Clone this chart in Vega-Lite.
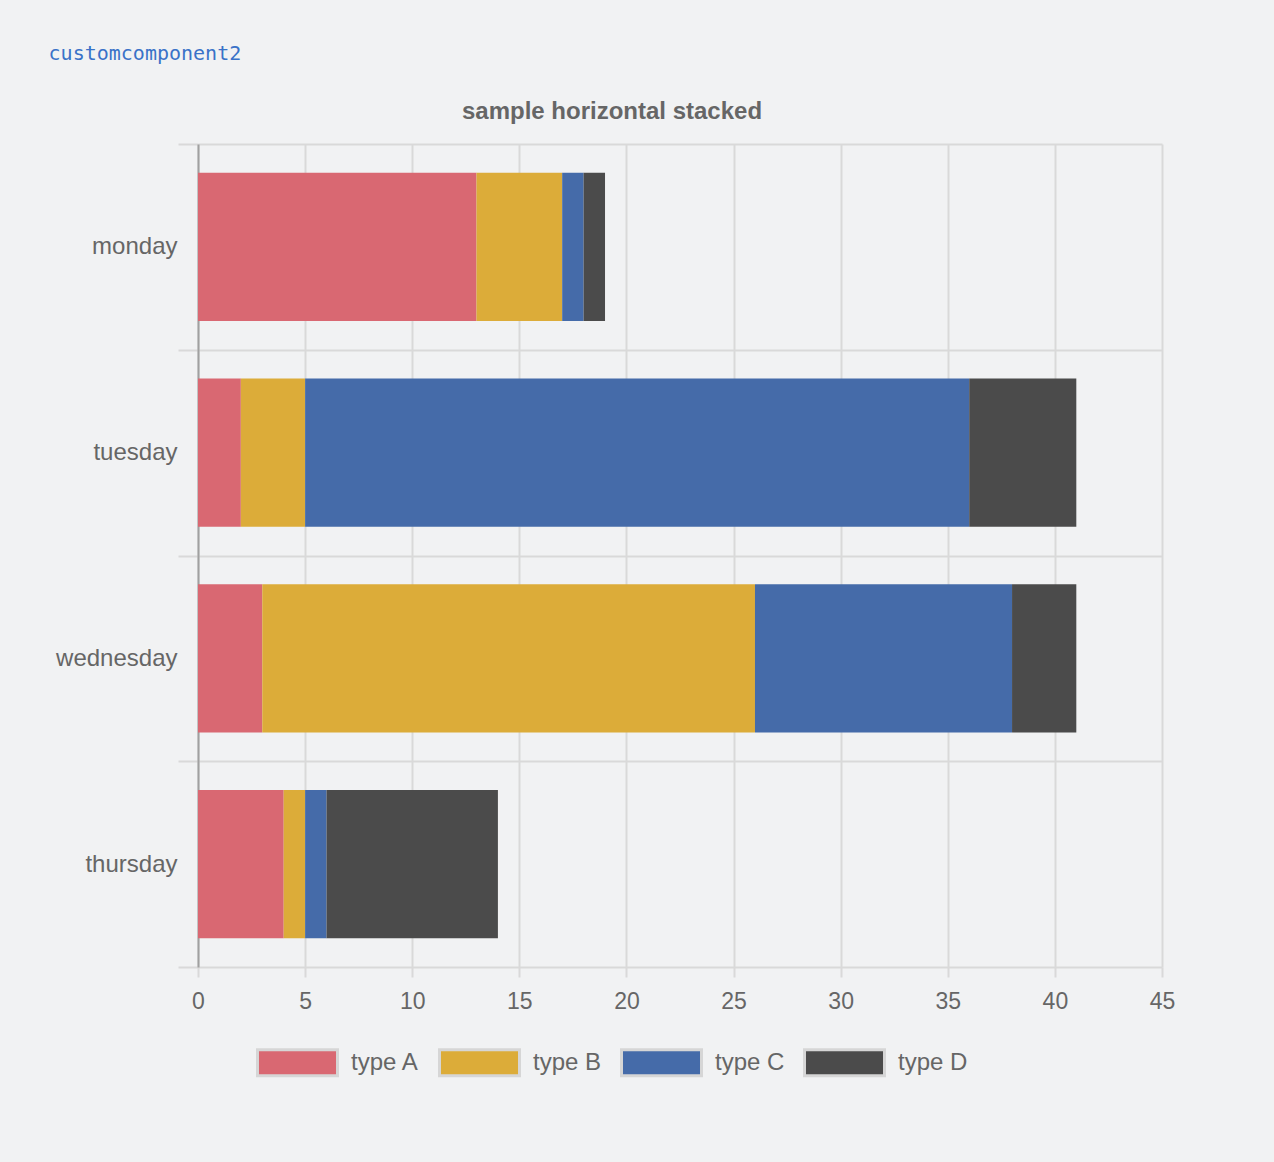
{
  "$schema": "https://vega.github.io/schema/vega-lite/v6.json",
  "background": "#f1f2f3",
  "padding": {"left": 48, "top": 44, "right": 118, "bottom": 82},
  "title": {"text": "customcomponent2", "anchor": "start", "font": "DejaVu Sans Mono", "fontSize": 20, "fontWeight": "normal", "color": "#3a72c8", "offset": 36, "dx": -7},
  "config": {"view": {"stroke": null}},
  "vconcat": [
    {
      "width": 964,
      "height": 823,
      "title": {"text": "sample horizontal stacked", "font": "Liberation Sans", "fontSize": 24, "fontWeight": "bold", "color": "#666666", "anchor": "middle", "dx": -68, "offset": 8},
      "data": {"values": [
        {"day": "monday", "type": "type A", "value": 13},
        {"day": "monday", "type": "type B", "value": 4},
        {"day": "monday", "type": "type C", "value": 1},
        {"day": "monday", "type": "type D", "value": 1},
        {"day": "tuesday", "type": "type A", "value": 2},
        {"day": "tuesday", "type": "type B", "value": 3},
        {"day": "tuesday", "type": "type C", "value": 31},
        {"day": "tuesday", "type": "type D", "value": 5},
        {"day": "wednesday", "type": "type A", "value": 3},
        {"day": "wednesday", "type": "type B", "value": 23},
        {"day": "wednesday", "type": "type C", "value": 12},
        {"day": "wednesday", "type": "type D", "value": 3},
        {"day": "thursday", "type": "type A", "value": 4},
        {"day": "thursday", "type": "type B", "value": 1},
        {"day": "thursday", "type": "type C", "value": 1},
        {"day": "thursday", "type": "type D", "value": 8}
      ]},
      "mark": {"type": "bar", "height": {"band": 0.72}},
      "encoding": {
        "y": {
          "field": "day", "type": "nominal",
          "sort": ["monday", "tuesday", "wednesday", "thursday"],
          "scale": {"paddingInner": 0, "paddingOuter": 0},
          "axis": {
            "title": null, "tickBand": "extent", "grid": true,
            "gridColor": "#d9d9d9", "gridWidth": 2,
            "tickColor": "#d9d9d9", "tickWidth": 2, "tickSize": 20,
            "domainColor": "#a0a0a0", "domainWidth": 2,
            "labelFont": "Liberation Sans", "labelFontSize": 24, "labelColor": "#666666", "labelPadding": 1
          }
        },
        "x": {
          "field": "value", "type": "quantitative", "stack": "zero",
          "scale": {"domain": [0, 45], "nice": false},
          "axis": {
            "title": null, "values": [0, 5, 10, 15, 20, 25, 30, 35, 40, 45],
            "grid": true, "gridColor": "#d9d9d9", "gridWidth": 2,
            "domain": false, "labelFlush": false,
            "tickColor": "#d9d9d9", "tickWidth": 2, "tickSize": 10,
            "labelFont": "Liberation Sans", "labelFontSize": 23, "labelColor": "#666666", "labelPadding": 13
          }
        },
        "color": {
          "field": "type", "type": "nominal",
          "scale": {"domain": ["type A", "type B", "type C", "type D"], "range": ["#d96872", "#dcac39", "#456ba9", "#4b4b4b"]},
          "legend": {
            "title": null, "orient": "none", "direction": "horizontal",
            "legendX": 58, "legendY": 877, "padding": 0,
            "symbolType": "M-1,-0.325H1V0.325H-1Z", "symbolSize": 6400,
            "symbolStrokeColor": "#d6d6d6", "symbolStrokeWidth": 3, "symbolOpacity": 1,
            "labelFont": "Liberation Sans", "labelFontSize": 24, "labelColor": "#666666",
            "labelOffset": 12, "columnPadding": 13
          }
        }
      }
    }
  ]
}
